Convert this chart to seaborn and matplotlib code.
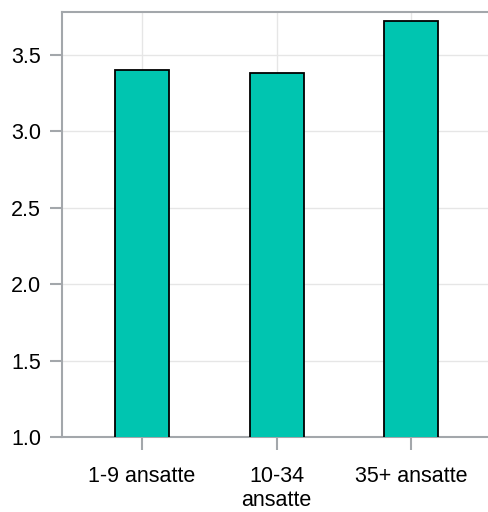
import matplotlib
matplotlib.use('Agg')
from matplotlib import pyplot as plt
import seaborn as sns
import pandas as pd

categories = ['1-9 ansatte', '10-34\nansatte', '35+ ansatte']
values = [3.40, 3.38, 3.72]

if __name__ == '__main__':
    sns.set_style('white')
    plt.rcParams['font.family'] = ['Liberation Sans', 'DejaVu Sans']

    data = pd.DataFrame({'group': categories, 'score': values})

    fig = plt.figure(figsize=(4.89, 5.12), dpi=100)
    ax = fig.add_axes([62 / 489, 1 - 437 / 512, 430 / 489, 425 / 512])

    sns.barplot(data=data, x='group', y='score', color='#00c5b0', width=0.4,
                edgecolor='black', linewidth=1.3, saturation=1, ax=ax, zorder=3)

    ax.set_ylim(1.0, 3.78)
    ax.set_xlim(-0.595, 2.6)
    ax.set_yticks([1.0, 1.5, 2.0, 2.5, 3.0, 3.5])
    ax.set_yticklabels(['1.0', '1.5', '2.0', '2.5', '3.0', '3.5'])
    ax.grid(True, color='#e6e6e6', linewidth=1, zorder=0)
    ax.set_axisbelow(True)
    for s in ['left', 'bottom', 'top', 'right']:
        ax.spines[s].set_color('#a3a7ab')
        ax.spines[s].set_linewidth(1.5)
    ax.tick_params(axis='both', colors='#a3a7ab', length=9, width=1.5,
                   labelcolor='black', labelsize=15.5, direction='out')
    ax.tick_params(axis='x', bottom=True, pad=12)
    ax.tick_params(axis='y', left=True, pad=6)
    for lbl in ax.get_xticklabels():
        lbl.set_linespacing(1.15)
    ax.set_xlabel('')
    ax.set_ylabel('')

    fig.savefig('out.png', dpi=100)
